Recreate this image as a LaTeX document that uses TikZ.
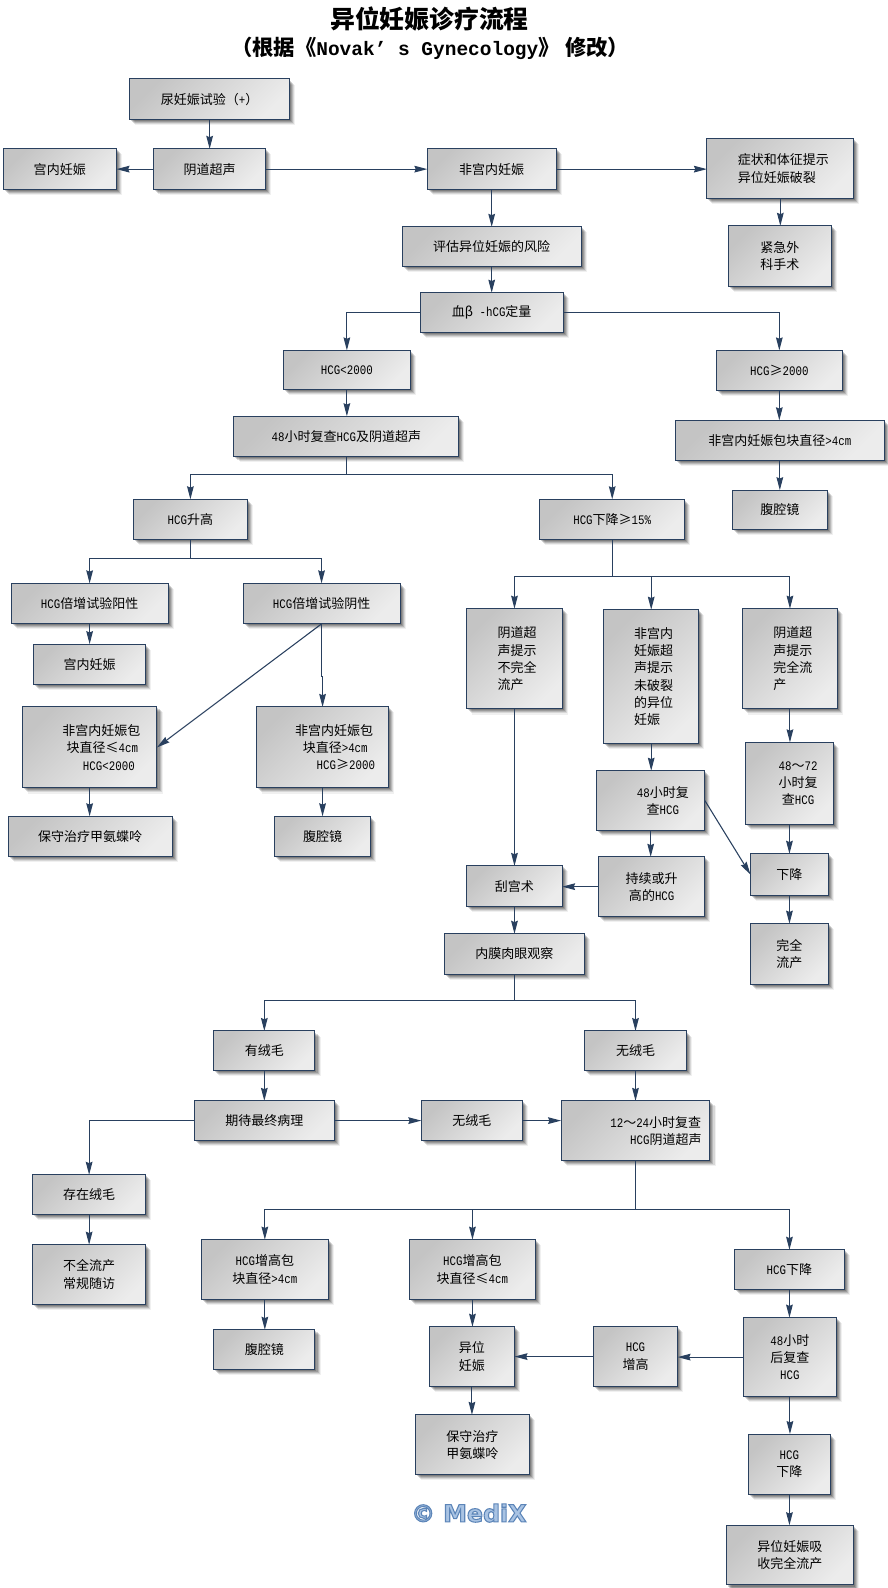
\documentclass[tikz,border=0pt]{standalone}
\usepackage{fontspec}
\usetikzlibrary{arrows.meta,shadows,calc}
\setmainfont{Noto Sans CJK SC}
\newfontfamily\latfont[FakeStretch=0.83]{Liberation Mono}
\newfontfamily\titlelat{Liberation Mono}
\newfontfamily\markfont{DejaVu Sans}
\newcommand\latn[1]{{\latfont #1}}
\newcommand\tlat[1]{{\titlelat\bfseries\fontsize{14.6pt}{20pt}\selectfont #1}}
\newdimen\pxu \pxu=.75945pt
\newcommand\pad[1]{\hspace*{#1\pxu}}
\definecolor{edgeblue}{HTML}{29405F}
\definecolor{boxdark}{HTML}{C4C4C4}
\definecolor{boxlight}{HTML}{ECECEC}
\tikzset{
  boxst/.style={rectangle,draw=edgeblue,line width=.75pt,inner sep=0pt,outer sep=0pt,
    top color=boxdark,bottom color=boxlight,shading angle=45,
    font=\fontsize{9.75pt}{12.9pt}\selectfont,text=black,
    general shadow={fill=black,opacity=.06,shadow xshift=5.5\pxu,shadow yshift=-5.5\pxu},
    general shadow={fill=black,opacity=.10,shadow xshift=4.5\pxu,shadow yshift=-4.5\pxu},
    general shadow={fill=black,opacity=.14,shadow xshift=3.5\pxu,shadow yshift=-3.5\pxu},
    general shadow={fill=black,opacity=.16,shadow xshift=2.5\pxu,shadow yshift=-2.5\pxu},
    general shadow={fill=black,opacity=.18,shadow xshift=1.5\pxu,shadow yshift=-1.5\pxu}},
  conn/.style={draw=edgeblue,line width=.8pt,-{Stealth[length=9.75pt,width=5pt,inset=1pt]}},
  titlest/.style={inner sep=0pt,text=black},
  markst/.style={inner sep=0pt}
}
% name, x1, y1, x2, y2, alignment, text
\newcommand\bx[7]{%
  \pgfmathsetmacro\bw{#4-#2}\pgfmathsetmacro\bh{#5-#3}%
  \node[boxst,align=#6,minimum width=\bw*\pxu,minimum height=\bh*\pxu] (#1) at ({(#2+#4)/2},{(#3+#5)/2}) {#7};}
\begin{document}
\begin{tikzpicture}[x=\pxu,y=-\pxu]
\useasboundingbox[fill=white] (0,0) rectangle (876,1568);
\node[titlest,font=\fontsize{18.6pt}{22pt}\bfseries\selectfont] (title) at (424,19) {异位妊娠诊疗流程};
\node[titlest,font=\fontsize{16pt}{20pt}\bfseries\selectfont] (subtitle) at (424.6,48) {（根据《\tlat{Novak’ s Gynecology}》\kern4pt 修改）};

\bx{a}{128}{78}{286}{118}{center}{尿妊娠试验（\latn{+}）}
\bx{b}{3}{147}{115}{187}{center}{宫内妊娠}
\bx{c}{152}{147}{262}{187}{center}{阴道超声}
\bx{d}{422}{147}{549}{187}{center}{非宫内妊娠}
\bx{e}{698}{137}{843}{196}{left}{\pad{6}症状和体征提示\\\pad{6}异位妊娠破裂}
\bx{f}{719}{223}{821}{283}{center}{紧急外\\科手术}
\bx{g}{397}{224}{574}{263}{center}{评估异位妊娠的风险}
\bx{h}{415}{289}{556}{328}{center}{血β\latn{ -hCG}定量}
\bx{i}{280}{346}{405}{385}{center}{\latn{HCG<2000}}
\bx{j}{707}{346}{832}{386}{center}{\latn{HCG}≥\latn{2000}}
\bx{k}{231}{411}{453}{451}{center}{\latn{48}小时复查\latn{HCG}及阴道超声}
\bx{l}{667}{415}{873}{455}{center}{非宫内妊娠包块直径\latn{>4cm}}
\bx{m}{723}{484}{817}{523}{center}{腹腔镜}
\bx{n}{132}{493}{244}{533}{center}{\latn{HCG}升高}
\bx{o}{533}{493}{676}{533}{center}{\latn{HCG}下降≥\latn{15\%}}
\bx{p}{11}{576}{166}{616}{center}{\latn{HCG}倍增试验阳性}
\bx{q}{240}{576}{395}{616}{center}{\latn{HCG}倍增试验阴性}
\bx{r}{33}{636}{144}{676}{center}{宫内妊娠}
\bx{s}{22}{698}{155}{778}{center}{\pad{23}非宫内妊娠包\\\pad{25}块直径≤\latn{4cm}\\\pad{38}\latn{HCG<2000}}
\bx{t}{253}{698}{384}{778}{center}{\pad{23}非宫内妊娠包\\\pad{25}块直径\latn{>4cm}\\\pad{46}\latn{HCG}≥\latn{2000}}
\bx{u}{8}{806}{170}{846}{center}{保守治疗甲氨蝶呤}
\bx{v}{271}{806}{366}{846}{center}{腹腔镜}
\bx{w}{461}{601}{555}{700}{left}{\pad{5}阴道超\\\pad{5}声提示\\\pad{5}不完全\\\pad{5}流产}
\bx{x}{596}{602}{690}{734}{left}{\pad{5}非宫内\\\pad{5}妊娠超\\\pad{5}声提示\\\pad{5}未破裂\\\pad{5}的异位\\\pad{5}妊娠}
\bx{y}{733}{601}{827}{700}{left}{\pad{6}阴道超\\\pad{6}声提示\\\pad{6}完全流\\\pad{6}产}
\bx{z}{589}{761}{696}{820}{center}{\pad{24}\latn{48}小时复\\\pad{24}查\latn{HCG}}
\bx{aa}{736}{733}{823}{814}{center}{\pad{17}\latn{48}～\latn{72}\\\pad{17}小时复\\\pad{17}查\latn{HCG}}
\bx{ab}{741}{843}{818}{884}{center}{下降}
\bx{ac}{741}{912}{818}{972}{center}{完全\\流产}
\bx{ad}{591}{846}{696}{905}{center}{持续或升\\高的\latn{HCG}}
\bx{ae}{461}{855}{555}{895}{center}{刮宫术}
\bx{af}{439}{922}{577}{962}{center}{内膜肉眼观察}
\bx{ag}{211}{1018}{311}{1057}{center}{有绒毛}
\bx{ah}{577}{1018}{678}{1057}{center}{无绒毛}
\bx{ai}{192}{1087}{330}{1126}{center}{期待最终病理}
\bx{aj}{416}{1087}{516}{1126}{center}{无绒毛}
\bx{ak}{554}{1087}{701}{1146}{center}{\pad{40}\latn{12}～\latn{24}小时复查\\\pad{60}\latn{HCG}阴道超声}
\bx{al}{32}{1160}{144}{1199}{center}{存在绒毛}
\bx{am}{32}{1229}{144}{1288}{center}{不全流产\\常规随访}
\bx{an}{199}{1224}{324}{1283}{center}{\latn{HCG}增高包\\块直径\latn{>4cm}}
\bx{ao}{404}{1224}{529}{1283}{center}{\latn{HCG}增高包\\块直径≤\latn{4cm}}
\bx{ap}{725}{1234}{834}{1273}{center}{\latn{HCG}下降}
\bx{aq}{211}{1313}{311}{1352}{center}{腹腔镜}
\bx{ar}{424}{1310}{508}{1369}{center}{异位\\妊娠}
\bx{as}{586}{1310}{669}{1369}{center}{\latn{HCG}\\增高}
\bx{at}{734}{1301}{826}{1379}{center}{\latn{48}小时\\后复查\\\latn{HCG}}
\bx{au}{410}{1397}{523}{1456}{center}{保守治疗\\甲氨蝶呤}
\bx{av}{739}{1416}{820}{1476}{center}{\latn{HCG}\\下降}
\bx{aw}{717}{1506}{843}{1565}{center}{异位妊娠吸\\收完全流产}

\node[markst] (mark) at (463,1494) {\special{pdf:code 0.8 w 2 Tr}\color[HTML]{A9C3E3}\special{pdf:code 0.36 0.52 0.72 RG}\fontsize{17.8pt}{20pt}\markfont\bfseries © MediX\special{pdf:code 0 Tr}};

\draw[conn] (a.south) -- (a.south|-c.north);
\draw[conn] (c.west) -- (b.east);
\draw[conn] (c.east) -- (d.west);
\draw[conn] (d.east) -- (e.west|-d.east);
\draw[conn] (e.south) -- (e.south|-f.north);
\draw[conn] (d.south) -- (d.south|-g.north);
\draw[conn] (g.south) -- (g.south|-h.north);
\draw[conn] (h.west) -| (i.north);
\draw[conn] (h.east) -| (j.north);
\draw[conn] (i.south) -- (i.south|-k.north);
\draw[conn] (j.south) -- (j.south|-l.north);
\draw[conn] (l.south) -- (l.south|-m.north);
\draw[conn] (k.south) -- ++(0,17.6) -| (n.north);
\draw[conn] (k.south) -- ++(0,17.6) -| (o.north);
\draw[conn] (n.south) -- ++(0,18) -| (p.north);
\draw[conn] (n.south) -- ++(0,18) -| (q.north);
\draw[conn] (p.south) -- (p.south|-r.north);
\draw[conn] (q.south) -- (s.east);
\draw[conn] (q.south) -- ++(0,52) -| (t.north);
\draw[conn] (s.south) -- (s.south|-u.north);
\draw[conn] (t.south) -- (t.south|-v.north);
\draw[conn] (o.south) -- ++(0,36) -| (w.north);
\draw[conn] (o.south) -- ++(0,36) -| (x.north);
\draw[conn] (o.south) -- ++(0,36) -| (y.north);
\draw[conn] (w.south) -- (w.south|-ae.north);
\draw[conn] (x.south) -- (x.south|-z.north);
\draw[conn] (y.south) -- (y.south|-aa.north);
\draw[conn] (z.south) -- (z.south|-ad.north);
\draw[conn] (z.east) -- (ab.west);
\draw[conn] (aa.south) -- (aa.south|-ab.north);
\draw[conn] (ab.south) -- (ab.south|-ac.north);
\draw[conn] (ad.west) -- (ae.east|-ad.west);
\draw[conn] (ae.south) -- (ae.south|-af.north);
\draw[conn] (af.south) -- ++(0,26) -| (ag.north);
\draw[conn] (af.south) -- ++(0,26) -| (ah.north);
\draw[conn] (ag.south) -- (ag.south|-ai.north);
\draw[conn] (ah.south) -- (ah.south|-ak.north);
\draw[conn] (ai.west) -| (al.north);
\draw[conn] (ai.east) -- (aj.west);
\draw[conn] (aj.east) -- (ak.west|-aj.east);
\draw[conn] (al.south) -- (al.south|-am.north);
\draw[conn] (ak.south) -- ++(0,48) -| (an.north);
\draw[conn] (ak.south) -- ++(0,48) -| (ao.north);
\draw[conn] (ak.south) -- ++(0,48) -| (ap.north);
\draw[conn] (an.south) -- (an.south|-aq.north);
\draw[conn] (ao.south) -- (ao.south|-ar.north);
\draw[conn] (ar.south) -- (ar.south|-au.north);
\draw[conn] (ap.south) -- (ap.south|-at.north);
\draw[conn] (at.west) -- (as.east|-at.west);
\draw[conn] (as.west) -- (ar.east|-as.west);
\draw[conn] (at.south) -- (at.south|-av.north);
\draw[conn] (av.south) -- (av.south|-aw.north);
\end{tikzpicture}
\end{document}
